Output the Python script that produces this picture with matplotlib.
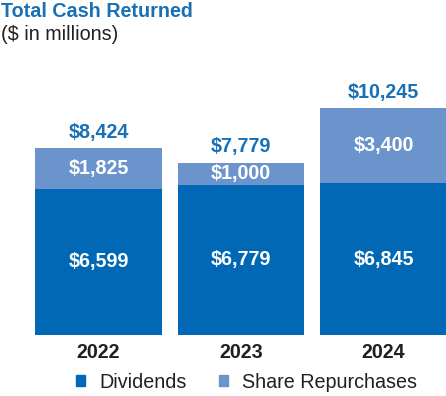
import matplotlib
matplotlib.use('Agg')
import matplotlib.pyplot as plt
from matplotlib.patches import Patch

# data ($ in millions)
years = ['2022', '2023', '2024']
dividends = [6599, 6779, 6845]
repurchases = [1825, 1000, 3400]
totals = [8424, 7779, 10245]

DIV_COLOR = '#0068b5'
REP_COLOR = '#6b93cc'
TITLE_COLOR = '#1a70b5'
FS = 14.2

plt.rcParams['font.family'] = ['Liberation Sans', 'DejaVu Sans']

fig = plt.figure(figsize=(4.46, 3.96), dpi=100)
ax = fig.add_axes([0, 61 / 396, 1, 275 / 396])

x = list(range(len(years)))
w = 0.89
ax.bar(x, dividends, width=w, color=DIV_COLOR)
ax.bar(x, repurchases, width=w, bottom=dividends, color=REP_COLOR)

ax.set_xlim(-0.691, 2.439)
ax.set_ylim(0, 12411)
ax.axis('off')

for i in x:
    ax.text(i, dividends[i] / 2, '${:,}'.format(dividends[i]), ha='center', va='center',
            color='white', fontsize=FS, fontweight='bold')
    ax.text(i, dividends[i] + repurchases[i] / 2, '${:,}'.format(repurchases[i]),
            ha='center', va='center', color='white', fontsize=FS, fontweight='bold')
    ax.text(i, totals[i] + 280, '${:,}'.format(totals[i]), ha='center', va='bottom',
            color=TITLE_COLOR, fontsize=FS, fontweight='bold')
    ax.text(i, -350, years[i], ha='center', va='top', color='#231f20',
            fontsize=FS, fontweight='bold')

fig.text(0.003, 1 - 2 / 396, 'Total Cash Returned', ha='left', va='top',
         color=TITLE_COLOR, fontsize=FS, fontweight='bold')
fig.text(0.003, 1 - 25 / 396, '($ in millions)', ha='left', va='top',
         color='#231f20', fontsize=FS)

handles = [Patch(color=DIV_COLOR, label='Dividends'),
           Patch(color=REP_COLOR, label='Share Repurchases')]
fig.legend(handles=handles, loc='center', bbox_to_anchor=(0.553, 1 - 382 / 396), ncol=2,
           frameon=False, fontsize=FS, handlelength=0.46, handleheight=0.46,
           handletextpad=0.75, columnspacing=1.6, labelcolor='#231f20')

fig.savefig('out.png', dpi=100)
